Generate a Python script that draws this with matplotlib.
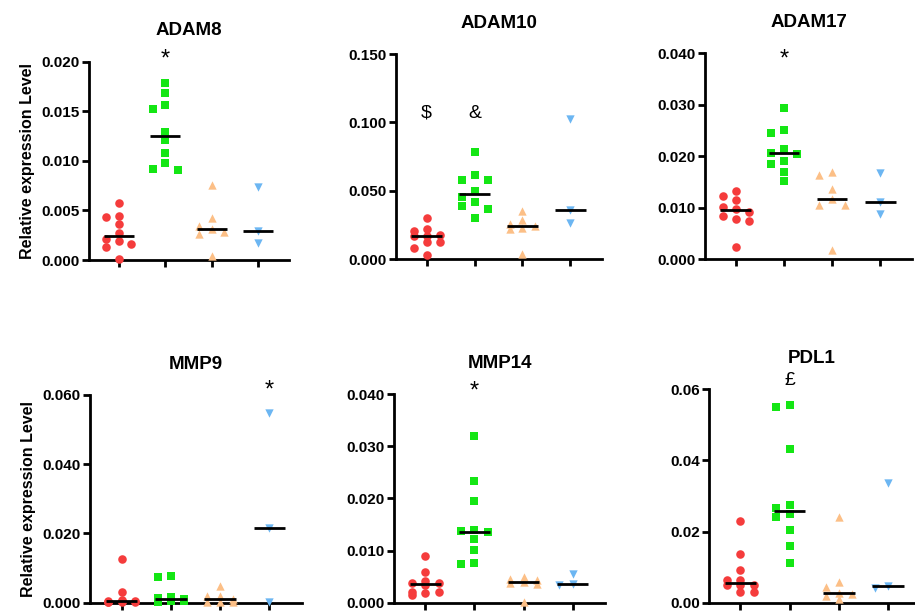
import numpy as np
import matplotlib
matplotlib.use('Agg')
import matplotlib.pyplot as plt

plt.rcParams['font.family'] = ['Liberation Sans', 'DejaVu Sans']

# Values per gene, four groups each: red, green, orange, blue
adam8 = [
    [0.00572, 0.0043, 0.0044, 0.0036, 0.00272, 0.00208, 0.00188, 0.00158, 0.00128, 0.0001],
    [0.0179, 0.0168, 0.0156, 0.0152, 0.0129, 0.0121, 0.0108, 0.0098, 0.0091, 0.0092],
    [0.0076, 0.0042, 0.00346, 0.00282, 0.0031, 0.00262, 0.0004],
    [0.00733, 0.00296, 0.00175],
]
adam10 = [
    [0.030, 0.0222, 0.0209, 0.0170, 0.0178, 0.0169, 0.0127, 0.0126, 0.0080, 0.0029],
    [0.0782, 0.0614, 0.0577, 0.0580, 0.0502, 0.0458, 0.0416, 0.0392, 0.0368, 0.0304],
    [0.0356, 0.0287, 0.0256, 0.0219, 0.0226, 0.0246, 0.0039],
    [0.1023, 0.0362, 0.0268],
]
adam17 = [
    [0.0133, 0.0122, 0.0115, 0.0101, 0.0098, 0.0092, 0.0084, 0.0079, 0.0075, 0.0023],
    [0.0293, 0.0252, 0.0246, 0.0215, 0.0205, 0.0207, 0.0190, 0.0186, 0.0170, 0.0153],
    [0.0164, 0.0169, 0.0136, 0.01165, 0.01055, 0.0106, 0.0019],
    [0.0168, 0.0112, 0.0088],
]
mmp9 = [
    [0.0125, 0.0032, 0.0008, 0.0006, 0.0005, 0.0004, 0.0003, 0.0002, 0.0001, 0.0001],
    [0.0078, 0.0075, 0.0016, 0.0013, 0.0011, 0.0009, 0.0007, 0.0005, 0.0004, 0.0003],
    [0.0048, 0.0019, 0.0018, 0.0010, 0.0002, 0.0001, 0.0001],
    [0.0547, 0.0217, 0.0002],
]
mmp14 = [
    [0.0090, 0.0059, 0.0042, 0.0037, 0.0037, 0.0034, 0.0021, 0.0019, 0.0020, 0.0014],
    [0.0320, 0.0234, 0.0194, 0.0137, 0.01355, 0.0139, 0.0123, 0.0101, 0.0077, 0.0074],
    [0.0050, 0.0045, 0.0043, 0.0039, 0.0038, 0.0036, 0.0002],
    [0.0055, 0.0035, 0.0034],
]
pdl1 = [
    [0.0230, 0.0137, 0.0092, 0.0064, 0.0063, 0.0050, 0.0049, 0.0050, 0.0031, 0.0031],
    [0.0555, 0.0551, 0.0431, 0.0275, 0.0265, 0.0249, 0.0242, 0.0203, 0.0159, 0.0111],
    [0.0242, 0.0059, 0.0043, 0.0028, 0.0024, 0.0019, 0.0009],
    [0.0336, 0.0048, 0.0040],
]

titles = ['ADAM8', 'ADAM10', 'ADAM17', 'MMP9', 'MMP14', 'PDL1']
ytops = [0.020, 0.150, 0.040, 0.060, 0.040, 0.06]
ysteps = [0.005, 0.050, 0.010, 0.020, 0.010, 0.02]
ydecimals = [3, 3, 3, 3, 3, 2]

# significance marks: (panel, group, symbol, height)
marks = [
    (0, 1, '*', 0.0202),
    (1, 0, '$', 0.1067),
    (1, 1, '&', 0.1067),
    (2, 1, '*', 0.0388),
    (3, 3, '*', 0.0614),
    (4, 1, '*', 0.0404),
    (5, 1, '£', 0.0624),
]

colors = ['#f53c3c', '#14e614', '#fcbf86', '#6cb6f2']
markers = ['o', 's', '^', 'v']
msizes = [38, 32, 36, 36]

# axes boxes in pixels: left, right, top, bottom
W, H = 915, 615
boxes = [
    (89, 289, 61.7, 260),
    (396, 602, 54, 259.3),
    (705, 912, 53.3, 259.3),
    (90, 302, 395, 602.7),
    (394, 605, 394, 602.7),
    (709, 915, 389.3, 602.7),
]
xlims = [(-0.64, 3.66)] * 5 + [(-0.64, 3.55)]


def swarm_offsets(vals, height_px, ymax, step=0.27, gap_px=7.5):
    # greedy placement in three slots; crowded points go where there is most room
    px = np.array(vals) / ymax * height_px
    offsets = np.zeros(len(vals))
    placed = []
    for i in np.argsort(-px):
        best_k, best_d = 0, -1
        for k in [0, -1, 1]:
            d = min([abs(pp - px[i]) for kk, pp in placed if kk == k], default=1e9)
            if d >= gap_px:
                best_k = k
                break
            if d > best_d:
                best_k, best_d = k, d
        placed.append((best_k, px[i]))
        offsets[i] = best_k * step
    return offsets


fig = plt.figure(figsize=(W / 100, H / 100), dpi=100)
data = [adam8, adam10, adam17, mmp9, mmp14, pdl1]

for p, groups in enumerate(data):
    l, r, t, b = boxes[p]
    ax = fig.add_axes([l / W, 1 - b / H, (r - l) / W, (b - t) / H])
    height_px = b - t
    for g, vals in enumerate(groups):
        offs = swarm_offsets(vals, height_px, ytops[p])
        ax.scatter(g + offs, vals, s=msizes[g], marker=markers[g], color=colors[g],
                   linewidths=0, clip_on=False, zorder=3)
        med = np.median(vals)
        ax.plot([g - 0.32, g + 0.32], [med, med], color='black', lw=2, zorder=4,
                solid_capstyle='butt', clip_on=False)

    ax.set_xlim(*xlims[p])
    ax.set_ylim(0, ytops[p])
    ax.set_xticks(range(4))
    ax.set_xticklabels([])
    yt = np.arange(0, ytops[p] + ysteps[p] / 2, ysteps[p])
    ax.set_yticks(yt)
    ax.set_yticklabels([f'{v:.{ydecimals[p]}f}' for v in yt], fontsize=11, fontweight='bold')
    ax.tick_params(axis='both', width=2, length=5, direction='out', pad=1.5)
    for side in ['top', 'right']:
        ax.spines[side].set_visible(False)
    for side in ['left', 'bottom']:
        ax.spines[side].set_linewidth(2)
    ax.set_title(titles[p], fontsize=13.5, fontweight='bold', pad=19)
    if p in (0, 3):
        ax.set_ylabel('Relative expression Level', fontsize=11.5, fontweight='bold', labelpad=5)

    for mp, mg, sym, yv in marks:
        if mp == p:
            if sym == '*':
                ax.text(mg, yv, sym, ha='center', va='center', fontsize=17)
            else:
                ax.text(mg, yv, sym, ha='center', va='center', fontsize=14)

fig.savefig('out.png', dpi=100)
